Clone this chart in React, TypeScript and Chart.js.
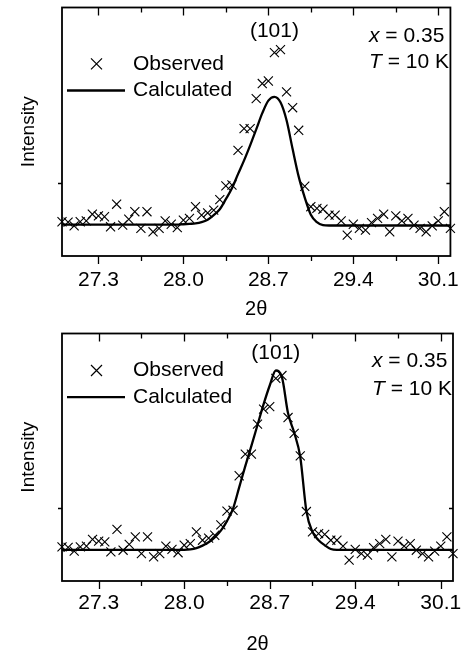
import React, { useEffect, useRef } from 'react';
import { Chart, registerables } from 'chart.js';

Chart.register(...registerables);

// ---- data ----
const twoTheta = [
  27.0, 27.05, 27.1, 27.15, 27.2, 27.25, 27.3, 27.35, 27.4, 27.45,
  27.5, 27.55, 27.6, 27.65, 27.7, 27.75, 27.8, 27.85, 27.9, 27.95,
  28.0, 28.05, 28.1, 28.15, 28.2, 28.25, 28.3, 28.35, 28.4, 28.45,
  28.5, 28.55, 28.6, 28.65, 28.7, 28.75, 28.8, 28.85, 28.9, 28.95,
  29.0, 29.05, 29.1, 29.15, 29.2, 29.25, 29.3, 29.35, 29.4, 29.45,
  29.5, 29.55, 29.6, 29.65, 29.7, 29.75, 29.8, 29.85, 29.9, 29.95,
  30.0, 30.05, 30.1, 30.15, 30.2,
];

const observed = [
  107, 106, 97, 107, 109, 125, 121, 119, 95, 149,
  99, 113, 131, 91, 131, 83, 91, 109, 101, 93,
  111, 115, 143, 123, 128, 135, 160, 193, 195, 278,
  330, 330, 402, 438, 444, 512, 519, 418, 380, 326,
  192, 143, 139, 137, 123, 123, 109, 75, 101, 91,
  87, 105, 115, 125, 83, 121, 109, 115, 99, 91,
  83, 97, 109, 131, 91,
];

const calculatedTop = [
  100, 100, 100, 100, 100, 100, 100, 100, 100, 100,
  100, 100, 100, 100, 100, 100, 100, 100, 100, 100,
  101, 102, 103, 106, 112, 123, 137, 161, 187, 221,
  254, 290, 328, 367, 397, 406, 393, 350, 281, 215,
  165, 124, 106, 99, 98, 98, 98, 98, 98, 98,
  98, 98, 98, 98, 98, 98, 98, 98, 98, 98,
  98, 98, 98, 98, 98,
];

const calculatedBottom = [
  100, 100, 100, 100, 100, 100, 100, 100, 100, 100,
  100, 100, 100, 100, 100, 100, 100, 100, 100, 100,
  100, 101, 104, 110, 118, 130, 146, 169, 199, 250,
  301, 350, 400, 450, 495, 531, 515, 428, 382, 323,
  193, 143, 123, 111, 102, 100, 100, 100, 100, 100,
  100, 100, 100, 100, 100, 100, 100, 100, 100, 100,
  100, 100, 100, 100, 100,
];

const majorTicks = [27.3, 28.0, 28.7, 29.4, 30.1];
const minorTicks = [27.65, 28.35, 29.05, 29.75];
const yTicks = [200];
const xRange = [27.0, 30.2];
const yRange = [25, 620];
const peakPosition = 28.75;
const peakLabel = '(101)';
const legendLabels = ['Observed', 'Calculated'];
const xTitle = '2θ';
const yTitle = 'Intensity';

const FONT = "'Liberation Sans', Arial, Helvetica, sans-serif";

type PanelCfg = {
  calc: number[];
  top: number;
  height: number;
  xAxisHeight: number;
  tickPad: number;
  titlePad: number;
  legendY: [number, number];
  peakY: number;
  infoX: number;
  infoY: [number, number];
};

const panels: PanelCfg[] = [
  { calc: calculatedTop, top: 0, height: 326, xAxisHeight: 70, tickPad: 12, titlePad: 5, legendY: [56.3, 83], peakY: 24, infoX: 307, infoY: [28.8, 54.8] },
  { calc: calculatedBottom, top: 326, height: 336, xAxisHeight: 81, tickPad: 9.5, titlePad: 5.5, legendY: [37, 63.7], peakY: 19.8, infoX: 310, infoY: [27.8, 55.3] },
];

function Panel({ cfg }: { cfg: PanelCfg }) {
  const ref = useRef<HTMLCanvasElement | null>(null);
  useEffect(() => {
    if (!ref.current) return;
    const decor = {
      id: 'decor',
      afterDraw(chart: any) {
        const { ctx, chartArea: a, scales } = chart;
        const xs = scales.x;
        const ys = scales.y;
        ctx.save();
        ctx.strokeStyle = '#000';
        ctx.fillStyle = '#000';
        ctx.lineWidth = 1.8;
        ctx.strokeRect(a.left, a.top, a.right - a.left, a.bottom - a.top);
        ctx.lineWidth = 1.3;
        const tick = (v: number, len: number) => {
          const px = Math.round(xs.getPixelForValue(v)) + 0.5;
          ctx.beginPath();
          ctx.moveTo(px, a.bottom);
          ctx.lineTo(px, a.bottom + len);
          ctx.moveTo(px, a.top);
          ctx.lineTo(px, a.top + len);
          ctx.stroke();
        };
        majorTicks.forEach((v) => tick(v, 8));
        minorTicks.forEach((v) => tick(v, 5));
        yTicks.forEach((v) => {
          const py = Math.round(ys.getPixelForValue(v)) + 0.5;
          ctx.beginPath();
          ctx.moveTo(a.left - 4, py);
          ctx.lineTo(a.left, py);
          ctx.moveTo(a.right - 4, py);
          ctx.lineTo(a.right, py);
          ctx.stroke();
        });
        // legend
        const mx = a.left + 34.5;
        const my = a.top + cfg.legendY[0];
        const s = 5.5;
        ctx.lineWidth = 1.2;
        ctx.beginPath();
        ctx.moveTo(mx - s, my - s);
        ctx.lineTo(mx + s, my + s);
        ctx.moveTo(mx + s, my - s);
        ctx.lineTo(mx - s, my + s);
        ctx.stroke();
        ctx.lineWidth = 2.3;
        ctx.beginPath();
        ctx.moveTo(a.left + 5, a.top + cfg.legendY[1]);
        ctx.lineTo(a.left + 63, a.top + cfg.legendY[1]);
        ctx.stroke();
        ctx.font = `21px ${FONT}`;
        ctx.textBaseline = 'middle';
        ctx.textAlign = 'left';
        ctx.fillText(legendLabels[0], a.left + 71, a.top + cfg.legendY[0]);
        ctx.fillText(legendLabels[1], a.left + 71, a.top + cfg.legendY[1]);
        // peak label
        ctx.textAlign = 'center';
        ctx.fillText(peakLabel, xs.getPixelForValue(peakPosition), a.top + cfg.peakY);
        // info
        ctx.textAlign = 'left';
        const ix = a.left + cfg.infoX;
        const parts: [string, string][] = [['x', ' = 0.35'], ['T', ' = 10 K']];
        parts.forEach(([it, rest], k) => {
          const y = a.top + cfg.infoY[k];
          ctx.font = `italic 21px ${FONT}`;
          ctx.fillText(it, ix, y);
          const w = ctx.measureText(it).width;
          ctx.font = `21px ${FONT}`;
          ctx.fillText(rest, ix + w, y);
        });
        ctx.restore();
      },
    };

    const chart = new Chart(ref.current, {
      type: 'scatter',
      data: {
        datasets: [
          {
            label: legendLabels[0],
            data: twoTheta.map((x, i) => ({ x, y: observed[i] })),
            pointStyle: 'crossRot',
            pointRadius: 6.4,
            pointBorderColor: '#000',
            pointBorderWidth: 1.1,
            borderColor: '#000',
            showLine: false,
            clip: false,
          } as any,
          {
            label: legendLabels[1],
            data: twoTheta.map((x, i) => ({ x, y: cfg.calc[i] })),
            showLine: true,
            borderColor: '#000',
            borderWidth: 2.3,
            pointRadius: 0,
            cubicInterpolationMode: 'monotone',
          } as any,
        ],
      },
      options: {
        animation: false,
        responsive: false,
        events: [],
        layout: { padding: { top: 7, right: 9, left: 0, bottom: 0 } },
        plugins: { legend: { display: false }, tooltip: { enabled: false } },
        scales: {
          x: {
            type: 'linear',
            min: xRange[0],
            max: xRange[1],
            afterBuildTicks: (s: any) => {
              s.ticks = majorTicks.map((v) => ({ value: v }));
            },
            afterFit: (s: any) => {
              s.height = cfg.xAxisHeight;
            },
            grid: { display: false, drawTicks: false },
            border: { display: false },
            ticks: {
              autoSkip: false,
              maxRotation: 0,
              padding: cfg.tickPad,
              color: '#000',
              font: { size: 21, family: FONT },
              callback: (v: any) => Number(v).toFixed(1),
            },
            title: {
              display: true,
              text: xTitle,
              color: '#000',
              font: { size: 20, family: FONT },
              padding: { top: 0, bottom: cfg.titlePad },
            },
          },
          y: {
            type: 'linear',
            min: yRange[0],
            max: yRange[1],
            afterBuildTicks: (s: any) => {
              s.ticks = yTicks.map((v) => ({ value: v }));
            },
            afterFit: (s: any) => {
              s.width = 62;
            },
            grid: { display: false, drawTicks: false },
            border: { display: false },
            ticks: { display: false },
            title: {
              display: true,
              text: yTitle,
              color: '#000',
              font: { size: 19, family: FONT },
              padding: { top: 17.5, bottom: 0 },
            },
          },
        },
      },
      plugins: [decor],
    } as any);
    return () => chart.destroy();
  }, [cfg]);
  return (
    <canvas
      ref={ref}
      width={471}
      height={cfg.height}
      style={{ position: 'absolute', left: 0, top: cfg.top, width: 471, height: cfg.height, display: 'block' }}
    />
  );
}

export default function App() {
  return (
    <div style={{ position: 'fixed', left: 0, top: 0, width: 471, height: 652, overflow: 'hidden', background: '#fff' }}>
      {panels.map((p, i) => (
        <Panel key={i} cfg={p} />
      ))}
    </div>
  );
}
